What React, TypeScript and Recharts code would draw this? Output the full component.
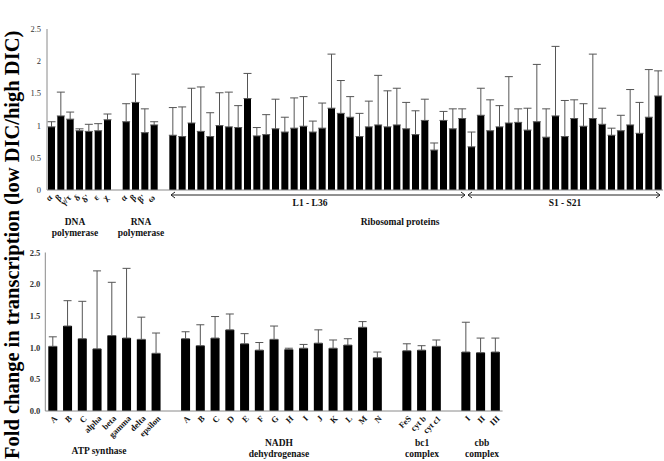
import React from "react";
import { BarChart, Bar, XAxis, YAxis, ErrorBar } from "recharts";

// top panel: DNA / RNA polymerase + ribosomal proteins
const dnaLabels = ["α", "β", "γ/τ", "δ", "δ'", "ε", "χ"];
const dnaVals = [0.98, 1.15, 1.1, 0.92, 0.91, 0.92, 1.09];
const dnaErr = [0.08, 0.37, 0.11, 0.03, 0.11, 0.11, 0.09];

const rnaLabels = ["α", "β", "β'", "ω"];
const rnaVals = [1.06, 1.36, 0.89, 1.01];
const rnaErr = [0.28, 0.44, 0.37, 0.05];

const largeVals = [
  0.85, 0.83, 1.04, 0.91, 0.83, 1.0, 0.98, 0.97, 1.42, 0.84, 0.86, 0.95, 0.9, 0.96, 0.99, 0.9,
  0.96, 1.27, 1.19, 1.13, 0.83, 0.98, 1.01, 0.98, 1.01, 0.95, 0.86, 1.08, 0.62, 1.08, 0.95, 1.11,
];
const largeErr = [
  0.43, 0.46, 0.54, 0.69, 0.37, 0.51, 0.54, 0.34, 0.39, 0.13, 0.31, 0.46, 0.23, 0.47, 0.46, 0.17,
  0.39, 0.84, 0.51, 0.32, 0.36, 0.4, 0.77, 0.56, 0.57, 0.41, 0.37, 0.33, 0.11, 0.14, 0.31, 0.15,
];

const smallVals = [
  0.67, 1.16, 0.92, 0.98, 1.04, 1.05, 0.93, 1.06, 0.82, 1.15, 0.83, 1.11, 0.99, 1.11, 1.02, 0.85,
  0.92, 1.01, 0.88, 1.13, 1.46,
];
const smallErr = [
  0.23, 0.42, 0.48, 0.33, 0.72, 0.21, 0.34, 0.89, 0.44, 1.08, 0.56, 0.29, 0.35, 1.0, 0.25, 0.11,
  0.24, 0.55, 0.48, 0.74, 0.39,
];

// bottom panel: respiratory complexes
const atpLabels = ["A", "B", "C", "alpha", "beta", "gamma", "delta", "epsilon"];
const atpVals = [1.02, 1.34, 1.14, 0.98, 1.19, 1.15, 1.13, 0.91];
const atpErr = [0.15, 0.4, 0.59, 1.23, 0.84, 1.1, 0.35, 0.32];

const nadhLabels = ["A", "B", "C", "D", "E", "F", "G", "H", "I", "J", "K", "L", "M", "N"];
const nadhVals = [1.14, 1.03, 1.15, 1.28, 1.06, 0.96, 1.13, 0.97, 0.99, 1.07, 0.99, 1.04, 1.32, 0.84];
const nadhErr = [0.11, 0.33, 0.34, 0.25, 0.16, 0.12, 0.21, 0.02, 0.06, 0.21, 0.13, 0.1, 0.09, 0.09];

const bc1Labels = ["FeS", "cyt b", "cyt c1"];
const bc1Vals = [0.95, 0.96, 1.02];
const bc1Err = [0.11, 0.07, 0.1];

const cbbLabels = ["I", "II", "III"];
const cbbVals = [0.93, 0.92, 0.93];
const cbbErr = [0.47, 0.23, 0.22];

const topTicks = [0, 0.5, 1, 1.5, 2, 2.5];
const bottomTicks = [0, 0.5, 1, 1.5, 2, 2.5];

type Row = { key: string; label: string; v: number | null; e?: [number, number] };
type Group = { id: string; labels: string[]; vals: number[]; errs: number[] };

// groups are separated by one empty category slot
function buildRows(groups: Group[]): Row[] {
  const rows: Row[] = [];
  groups.forEach((g, gi) => {
    if (gi > 0) rows.push({ key: `gap-${g.id}`, label: "", v: null });
    g.vals.forEach((v, i) => {
      rows.push({ key: `${g.id}-${i}`, label: g.labels[i] ?? "", v, e: [0, g.errs[i]] });
    });
  });
  return rows;
}

const largeLabels = largeVals.map(() => "");
const smallLabels = smallVals.map(() => "");

const topRows = buildRows([
  { id: "dna", labels: dnaLabels, vals: dnaVals, errs: dnaErr },
  { id: "rna", labels: rnaLabels, vals: rnaVals, errs: rnaErr },
  { id: "L", labels: largeLabels, vals: largeVals, errs: largeErr },
]).concat(
  smallVals.map((v, i) => ({ key: `S${i + 1}`, label: smallLabels[i], v, e: [0, smallErr[i]] as [number, number] }))
);

const bottomRows = buildRows([
  { id: "atp", labels: atpLabels, vals: atpVals, errs: atpErr },
  { id: "nadh", labels: nadhLabels, vals: nadhVals, errs: nadhErr },
  { id: "bc1", labels: bc1Labels, vals: bc1Vals, errs: bc1Err },
  { id: "cbb", labels: cbbLabels, vals: cbbVals, errs: cbbErr },
]);

const serif = "'Liberation Serif', 'Times New Roman', serif";
const axisGrey = "#8a8a8a";

const makeTick = (rows: Row[], dx: number, dy: number, size: number) => (props: any) => {
  const { x, y, payload } = props;
  const label = rows[payload.index]?.label ?? "";
  if (!label) return <g />;
  return (
    <g transform={`translate(${x + dx},${y + dy}) rotate(-45)`}>
      <text textAnchor="end" dy="0.35em" fontFamily={serif} fontWeight="bold" fontSize={size} fill="#111">
        {label}
      </text>
    </g>
  );
};

const Arrow = ({ x1, x2, y }: { x1: number; x2: number; y: number }) => (
  <g stroke="#222" strokeWidth={1} fill="none">
    <line x1={x1} y1={y} x2={x2} y2={y} />
    <polyline points={`${x1 + 4},${y - 3} ${x1},${y} ${x1 + 4},${y + 3}`} />
    <polyline points={`${x2 - 4},${y - 3} ${x2},${y} ${x2 - 4},${y + 3}`} />
  </g>
);

const Label = ({ x, y, lines, size = 9.5 }: { x: number; y: number; lines: string[]; size?: number }) => (
  <text x={x} y={y} textAnchor="middle" fontFamily={serif} fontWeight="bold" fontSize={size} fill="#111">
    {lines.map((l, i) => (
      <tspan key={i} x={x} dy={i === 0 ? 0 : 11.5}>
        {l}
      </tspan>
    ))}
  </text>
);

export default function App() {
  return (
    <div style={{ position: "absolute", left: 0, top: 0, width: 664, height: 461, background: "#fff" }}>
      <div style={{ position: "absolute", left: 0, top: 0 }}>
        <BarChart width={664} height={215} data={topRows} margin={{ top: 29, right: 1, left: 7, bottom: 5 }} barSize={7}>
          <XAxis
            dataKey="key"
            interval={0}
            height={20}
            tickLine={false}
            stroke={axisGrey}
            tick={makeTick(topRows, -1, -2, 9)}
          />
          <YAxis
            domain={[0, 2.5]}
            ticks={topTicks}
            width={40}
            tickLine={false}
            tickSize={4}
            tickMargin={2}
            stroke={axisGrey}
            tick={{ fontFamily: serif, fontSize: 8.5, fill: "#333" }}
            tickFormatter={(v: number) => String(v)}
          />
          <Bar dataKey="v" fill="#000" isAnimationActive={false}>
            <ErrorBar dataKey="e" direction="y" width={4} stroke="#555" strokeWidth={1} />
          </Bar>
        </BarChart>
      </div>
      <div style={{ position: "absolute", left: 0, top: 230 }}>
        <BarChart width={510} height={210} data={bottomRows} margin={{ top: 22.5, right: 7.4, left: 5.3, bottom: 5 }} barSize={9}>
          <XAxis
            dataKey="key"
            interval={0}
            height={24}
            tickLine={false}
            stroke={axisGrey}
            tick={makeTick(bottomRows, 3, -2, 8.5)}
          />
          <YAxis
            domain={[0, 2.5]}
            ticks={bottomTicks}
            width={40}
            tickLine={false}
            tickSize={4}
            tickMargin={1}
            stroke={axisGrey}
            tick={{ fontFamily: serif, fontSize: 8.5, fontWeight: "bold", fill: "#333" }}
            tickFormatter={(v: number) => v.toFixed(1)}
          />
          <Bar dataKey="v" fill="#000" isAnimationActive={false}>
            <ErrorBar dataKey="e" direction="y" width={4} stroke="#555" strokeWidth={1} />
          </Bar>
        </BarChart>
      </div>
      <svg width={664} height={461} style={{ position: "absolute", left: 0, top: 0, pointerEvents: "none" }}>
        <text
          transform="translate(18.6,459) rotate(-90)"
          fontFamily={serif}
          fontWeight="bold"
          fontSize={20.5}
          fill="#000"
        >
          Fold change in transcription (low DIC/high DIC)
        </text>
        <Arrow x1={171} x2={465} y={195} />
        <Arrow x1={468} x2={660} y={195} />
        <Label x={310} y={206} lines={["L1 - L36"]} />
        <Label x={565} y={206} lines={["S1 - S21"]} />
        <Label x={400} y={224.5} lines={["Ribosomal proteins"]} />
        <Label x={75} y={224.5} lines={["DNA", "polymerase"]} />
        <Label x={141} y={224.5} lines={["RNA", "polymerase"]} />
        <Label x={99} y={454} lines={["ATP synthase"]} />
        <Label x={279} y={445.5} lines={["NADH", "dehydrogenase"]} />
        <Label x={422} y={445.5} lines={["bc1", "complex"]} />
        <Label x={482} y={445.5} lines={["cbb", "complex"]} />
      </svg>
    </div>
  );
}
